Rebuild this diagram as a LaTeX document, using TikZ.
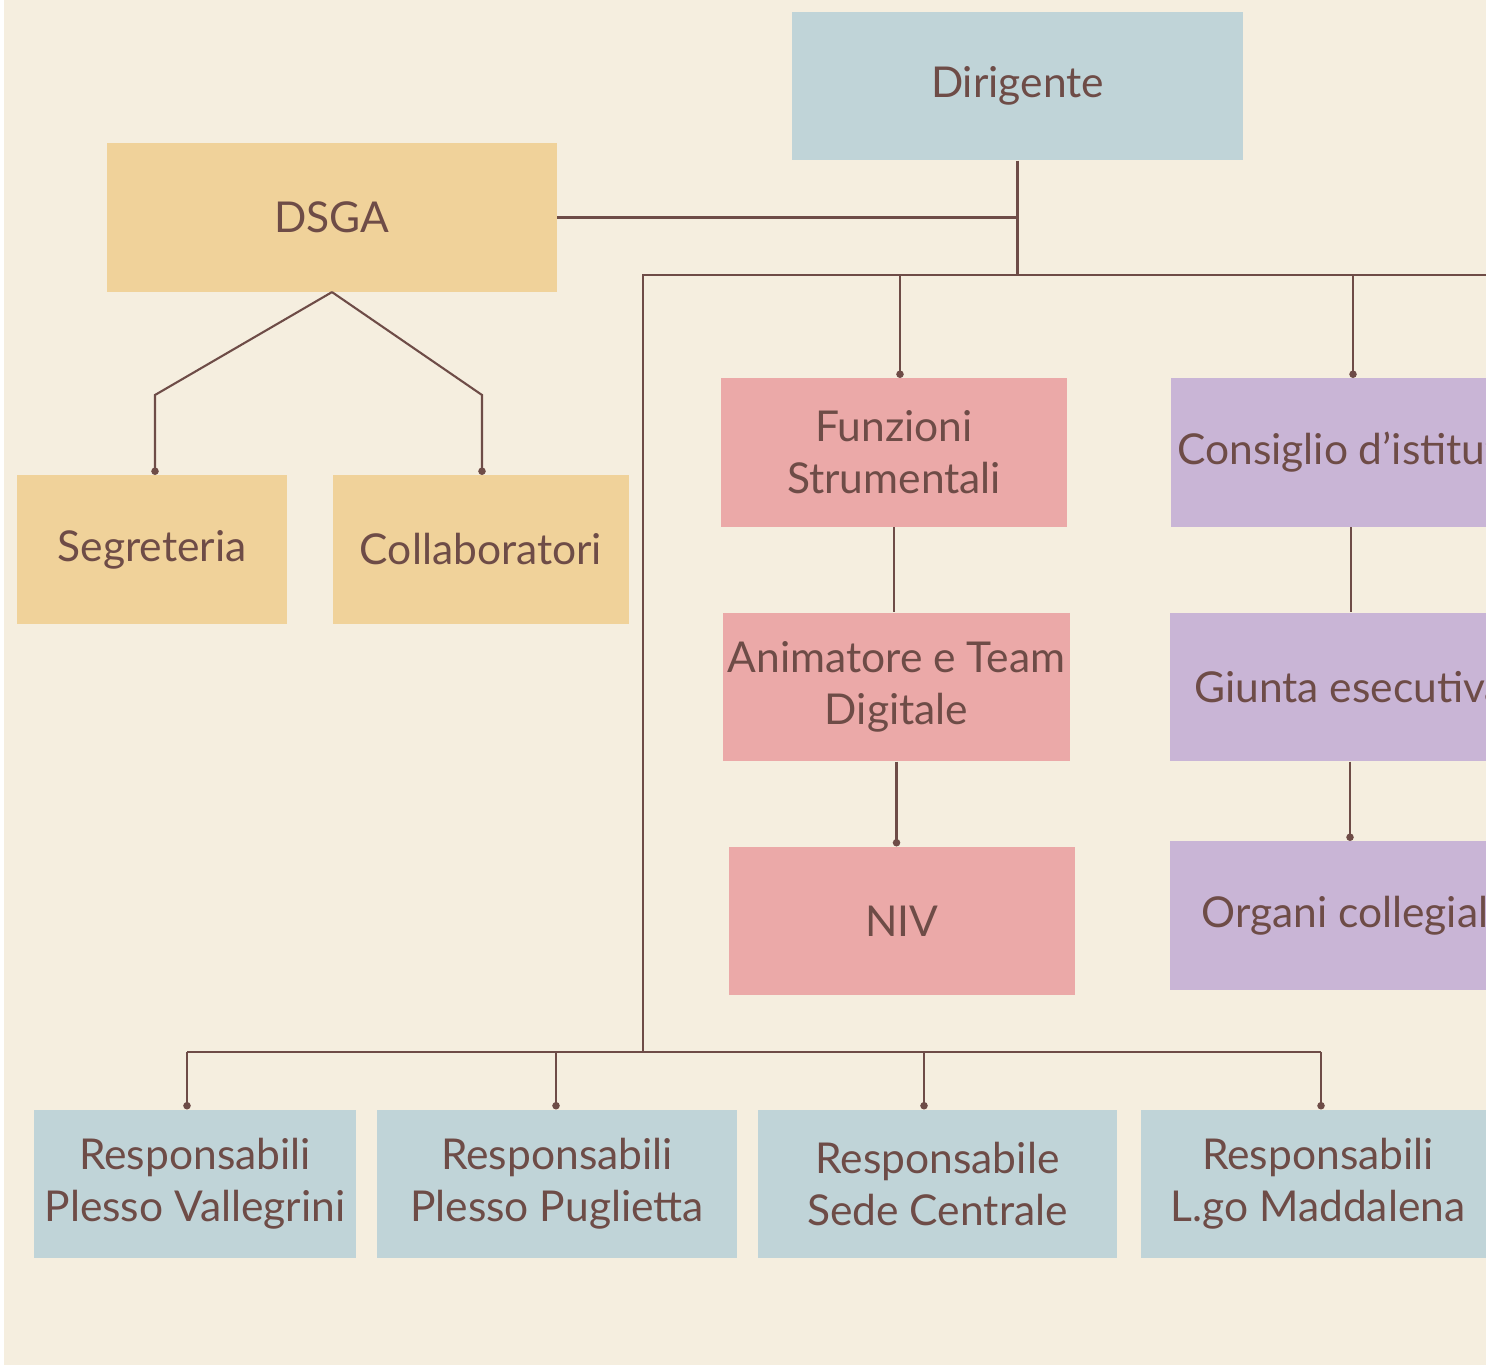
\documentclass[tikz,border=0pt]{standalone}
\usepackage{fontspec}
\setmainfont{Lato}
\usetikzlibrary{arrows.meta}
\definecolor{bgcream}{HTML}{F5EEDF}
\definecolor{boxblue}{HTML}{C0D4D8}
\definecolor{boxsand}{HTML}{F0D29A}
\definecolor{boxrose}{HTML}{EBA9A8}
\definecolor{boxlilac}{HTML}{C9B5D6}
\definecolor{inkbrown}{HTML}{6E4C47}

\begin{document}
\begin{tikzpicture}[x=0.02cm, y=-0.02cm,
    box/.style={rectangle, inner sep=0pt, minimum height=2.97cm, align=center,
        text=inkbrown, font=\fontsize{24.2}{29.5}\selectfont},
    bluebox/.style={box, fill=boxblue},
    sandbox/.style={box, fill=boxsand},
    rosebox/.style={box, fill=boxrose},
    lilacbox/.style={box, fill=boxlilac},
    link/.style={draw=inkbrown, line width=0.042cm},
    dotlink/.style={link, -{Circle[length=4.2pt]}}]
    \useasboundingbox (0,0) rectangle (1486,1365);
    \clip (0,0) rectangle (1486,1365);
    \fill[bgcream] (0,0) rectangle (1486,1365);
    \fill[white] (0,0) rectangle (4,1365);

    \node [bluebox, minimum width=9.02cm] (dir) at (1017.5,86) {Dirigente};
    \node [sandbox, minimum width=9.0cm] (dsga) at (332,217.5) {DSGA};
    \node [sandbox, minimum width=5.4cm] (seg) at (152,549.5) {Segreteria};
    \node [sandbox, minimum width=5.92cm] (coll) at (481,549.5) {Collaboratori};
    \node [rosebox, minimum width=6.92cm] (funz) at (894,452.5) {Funzioni\\Strumentali};
    \node [rosebox, minimum width=6.94cm] (anim) at (896.5,687) {Animatore e Team\\Digitale};
    \node [rosebox, minimum width=6.92cm] (niv) at (902,921) {NIV};
    \node [lilacbox, minimum width=7.2cm] (cons) at (1351,452.5) {Consiglio d’istituto};
    \node [lilacbox, minimum width=7.2cm] (giun) at (1350,687) {Giunta esecutiva};
    \node [lilacbox, minimum width=7.2cm] (org) at (1350,915.5) {Organi collegiali};
    \node [bluebox, minimum width=6.44cm] (val) at (195,1184) {Responsabili\\Plesso Vallegrini};
    \node [bluebox, minimum width=7.2cm] (pug) at (557,1184) {Responsabili\\Plesso Puglietta};
    \node [bluebox, minimum width=7.18cm] (cen) at (937.5,1184) {Responsabile\\Sede Centrale};
    \node [bluebox, minimum width=7.08cm] (mad) at (1318,1184) {Responsabili\\L.go Maddalena};

    % Dirigente and the main bus
    \coordinate (busTop) at (643,275);
    \coordinate (busBot) at (643,1052);
    \coordinate (busEnd) at (1500,275);
    \draw [link] (dir.south) -- (dir.south |- busTop);
    \draw [link] (dsga.east) -- (dsga.east -| dir.south);
    \draw [link] (busBot) -- (busTop) -- (busEnd);

    % DSGA branches
    \coordinate (kL) at (155,395);
    \coordinate (kR) at (482,395);
    \draw [dotlink] (dsga.south) -- (kL) -- (kL |- seg.north);
    \draw [dotlink] (dsga.south) -- (kR) -- (kR |- coll.north);

    % columns
    \coordinate (dF) at (900,275);
    \coordinate (dC) at (1353,275);
    \draw [dotlink] (dF) -- (dF |- funz.north);
    \draw [dotlink] (dC) -- (dC |- cons.north);
    \draw [link] (funz.south) -- (funz.south |- anim.north);
    \draw [dotlink] (anim.south) -- (anim.south |- niv.north);
    \draw [link] (cons.south) -- (cons.south |- giun.north);
    \draw [dotlink] (giun.south) -- (giun.south |- org.north);

    % bottom row
    \draw [link] (187,1052) coordinate (bL) -- (1321,1052) coordinate (bR);
    \foreach \xd/\nm in {187/val,556/pug,924/cen,1321/mad}{
        \coordinate (d\nm) at (\xd,1052);
        \draw [dotlink] (d\nm) -- (d\nm |- \nm.north);
    }
\end{tikzpicture}
\end{document}
